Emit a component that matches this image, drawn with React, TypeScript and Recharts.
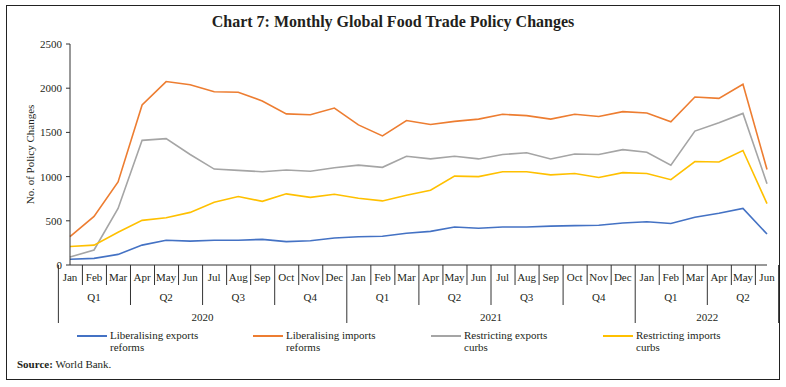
import React from 'react';
import { LineChart, Line, XAxis, YAxis } from 'recharts';

const months = [
  'Jan', 'Feb', 'Mar', 'Apr', 'May', 'Jun', 'Jul', 'Aug', 'Sep', 'Oct', 'Nov', 'Dec',
  'Jan', 'Feb', 'Mar', 'Apr', 'May', 'Jun', 'Jul', 'Aug', 'Sep', 'Oct', 'Nov', 'Dec',
  'Jan', 'Feb', 'Mar', 'Apr', 'May', 'Jun',
];
const quarterLabels = ['Q1', 'Q2', 'Q3', 'Q4', 'Q1', 'Q2', 'Q3', 'Q4', 'Q1', 'Q2'];
const yearLabels = ['2020', '2021', '2022'];
const monthsPerYear = [12, 12, 6];
const yTicks = [0, 500, 1000, 1500, 2000, 2500];

const liberalisingExports = [65, 75, 120, 225, 280, 270, 280, 280, 290, 265, 275, 305, 320, 325, 360, 380, 430, 415, 430, 430, 440, 445, 450, 475, 490, 470, 540, 585, 640, 350];
const liberalisingImports = [320, 550, 940, 1810, 2075, 2040, 1960, 1955, 1855, 1710, 1700, 1775, 1585, 1460, 1635, 1590, 1625, 1650, 1705, 1690, 1650, 1705, 1680, 1735, 1720, 1620, 1900, 1885, 2045, 1080];
const restrictingExports = [90, 170, 640, 1410, 1430, 1250, 1085, 1070, 1055, 1075, 1060, 1100, 1130, 1105, 1230, 1200, 1230, 1200, 1250, 1270, 1200, 1255, 1250, 1305, 1275, 1130, 1515, 1610, 1715, 920];
const restrictingImports = [210, 225, 370, 505, 535, 595, 710, 775, 720, 805, 765, 800, 755, 725, 790, 845, 1005, 1000, 1055, 1055, 1020, 1035, 990, 1045, 1035, 965, 1170, 1165, 1295, 695];

const series = [
  { key: 'le', name: ['Liberalising exports', 'reforms'], color: '#4472C4', values: liberalisingExports, legendX: 77 },
  { key: 'li', name: ['Liberalising imports', 'reforms'], color: '#ED7D31', values: liberalisingImports, legendX: 253 },
  { key: 're', name: ['Restricting exports', 'curbs'], color: '#A5A5A5', values: restrictingExports, legendX: 431 },
  { key: 'ri', name: ['Restricting imports', 'curbs'], color: '#FFC000', values: restrictingImports, legendX: 603 },
];

// year index for each month
const yearOfMonth: number[] = [];
monthsPerYear.forEach((c, yi) => { for (let k = 0; k < c; k++) yearOfMonth.push(yi); });
const yearStart: number[] = [];
{
  let s = 0;
  monthsPerYear.forEach((c) => { yearStart.push(s); s += c; });
}

const data = months.map((m, i) => {
  const row: any = { key: `${m}-${yearLabels[yearOfMonth[i]]}`, month: m };
  series.forEach((s) => { row[s.key] = s.values[i]; });
  return row;
});

const W = 786;
const H = 387;
const MARGIN = { top: 44, right: 19, left: 0, bottom: 64 };
const Y_AXIS_W = 70;
const X_AXIS_H = 58;
const PLOT_LEFT = MARGIN.left + Y_AXIS_W;
const PLOT_RIGHT = W - MARGIN.right;
const PLOT_BOTTOM = H - MARGIN.bottom - X_AXIS_H;
const BW = (PLOT_RIGHT - PLOT_LEFT) / months.length;
const FONT = '"Liberation Serif", "Times New Roman", serif';
const TXT = '#231f20';
const LINE = '#333';

const MonthTick = (props: any) => {
  const { x, index } = props;
  const i = index as number;
  const left = x - BW / 2;
  const right = x + BW / 2;
  const y0 = PLOT_BOTTOM;
  const yi = yearOfMonth[i];
  const isYearStart = yearStart.includes(i);
  const sepBottom = isYearStart ? y0 + 58 : i % 3 === 0 ? y0 + 40 : y0 + 20;
  const els: any[] = [];
  els.push(<line key="s" x1={left} x2={left} y1={y0} y2={sepBottom} stroke={LINE} strokeWidth={1} />);
  if (i === months.length - 1) {
    els.push(<line key="e" x1={right} x2={right} y1={y0} y2={y0 + 58} stroke={LINE} strokeWidth={1} />);
  }
  els.push(
    <text key="m" x={x} y={y0 + 12} textAnchor="middle" dominantBaseline="central" fontSize={11} fill={TXT} fontFamily={FONT}>
      {months[i]}
    </text>
  );
  if (i % 3 === 1) {
    els.push(
      <text key="q" x={x} y={y0 + 32} textAnchor="middle" dominantBaseline="central" fontSize={11} fill={TXT} fontFamily={FONT}>
        {quarterLabels[Math.floor(i / 3)]}
      </text>
    );
  }
  if (i - yearStart[yi] === monthsPerYear[yi] / 2) {
    els.push(
      <text key="y" x={left} y={y0 + 52} textAnchor="middle" dominantBaseline="central" fontSize={11} fill={TXT} fontFamily={FONT}>
        {yearLabels[yi]}
      </text>
    );
  }
  return <g>{els}</g>;
};

export default function App() {
  return (
    <div style={{ position: 'absolute', left: 0, top: 0, width: W, height: H, background: '#fff', fontFamily: FONT, color: TXT }}>
      <div style={{ position: 'absolute', left: 6, top: 5, width: 772, height: 373, border: '1.5px solid #222' }} />
      <div style={{ position: 'absolute', left: 0, top: 12, width: W, textAlign: 'center', fontWeight: 'bold', fontSize: 16, lineHeight: '20px' }}>
        Chart 7: Monthly Global Food Trade Policy Changes
      </div>
      <LineChart width={W} height={H} data={data} margin={MARGIN} style={{ position: 'absolute', left: 0, top: 0 }}>
        <XAxis
          dataKey="key"
          interval={0}
          height={X_AXIS_H}
          tickLine={false}
          axisLine={{ stroke: LINE, strokeWidth: 1 }}
          tick={<MonthTick />}
        />
        <YAxis
          width={Y_AXIS_W}
          domain={[0, 2500]}
          ticks={yTicks}
          interval={0}
          tickSize={4}
          tickMargin={4}
          axisLine={{ stroke: LINE, strokeWidth: 1 }}
          tickLine={{ stroke: LINE, strokeWidth: 1 }}
          tick={{ fontSize: 11, fill: TXT, fontFamily: FONT }}
          label={{ value: 'No. of Policy Changes', angle: -90, position: 'center', dx: -5, fontSize: 11, fill: TXT, fontFamily: FONT }}
        />
        {series.map((s) => (
          <Line key={s.key} dataKey={s.key} type="linear" stroke={s.color} strokeWidth={1.6} dot={false} isAnimationActive={false} />
        ))}
      </LineChart>
      {series.map((s) => (
        <div key={s.key} style={{ position: 'absolute', left: s.legendX, top: 329 }}>
          <div style={{ position: 'absolute', left: 0, top: 6, width: 30, height: 2, background: s.color }} />
          <div style={{ position: 'absolute', left: 33, top: 0, fontSize: 11, lineHeight: '12px', whiteSpace: 'nowrap' }}>
            {s.name[0]}<br />{s.name[1]}
          </div>
        </div>
      ))}
      <div style={{ position: 'absolute', left: 17, top: 357, fontSize: 11, lineHeight: '14px', whiteSpace: 'nowrap' }}>
        <b>Source:</b> World Bank.
      </div>
    </div>
  );
}
